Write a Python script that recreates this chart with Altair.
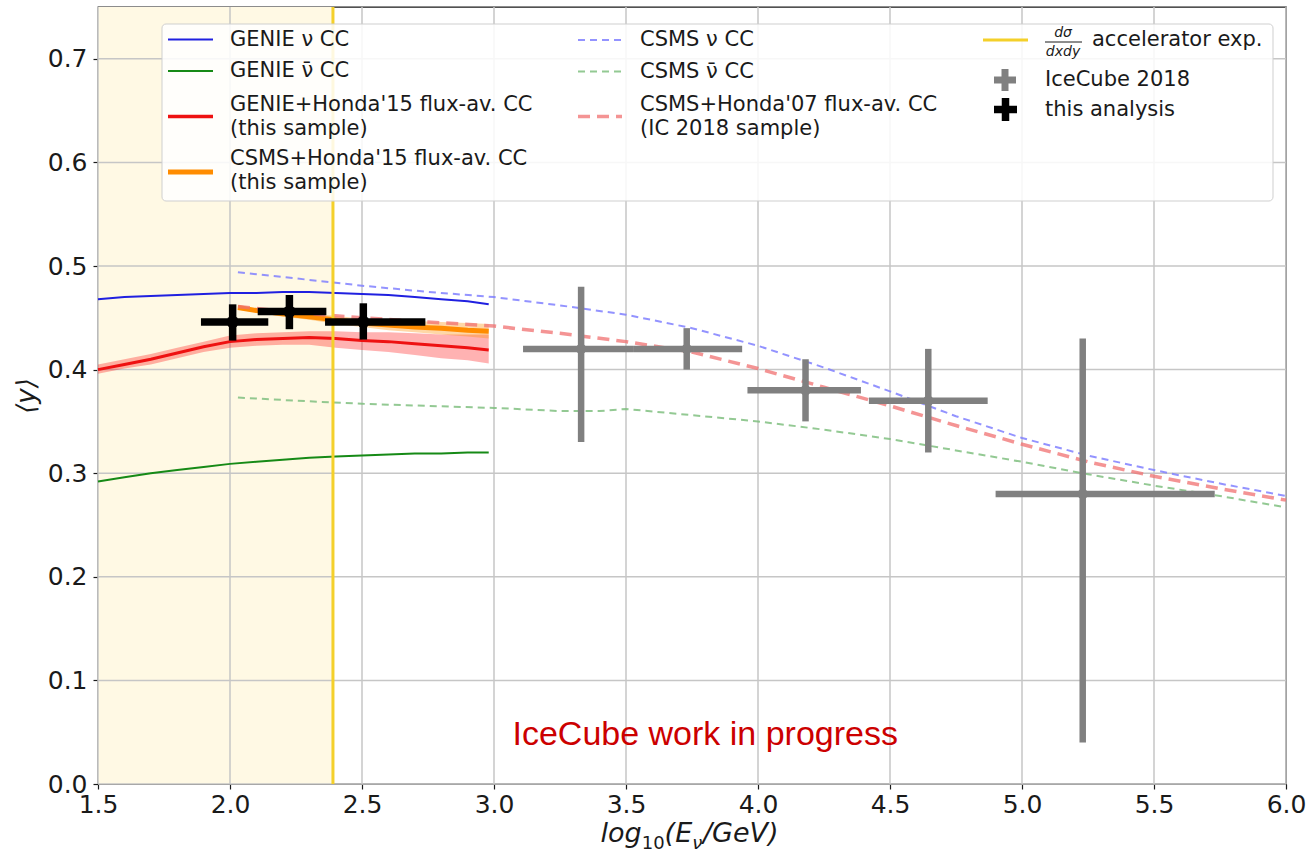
import altair as alt
import pandas as pd

# ------------------------------------------------------------------ data
genie_x = [1.5, 1.6, 1.7, 1.8, 1.9, 2.0, 2.1, 2.2, 2.3, 2.4, 2.5, 2.6, 2.7, 2.8, 2.9, 2.98]
genie_nu_y = [0.468, 0.470, 0.471, 0.472, 0.473, 0.474, 0.474, 0.475, 0.475, 0.474, 0.473, 0.472, 0.470, 0.468, 0.466, 0.463]
genie_nubar_y = [0.292, 0.296, 0.300, 0.303, 0.306, 0.309, 0.311, 0.313, 0.315, 0.316, 0.317, 0.318, 0.319, 0.319, 0.320, 0.320]
genie_flux_y = [0.400, 0.405, 0.410, 0.416, 0.422, 0.427, 0.429, 0.430, 0.431, 0.430, 0.428, 0.427, 0.425, 0.423, 0.421, 0.419]
genie_flux_lo = [0.396, 0.401, 0.405, 0.411, 0.417, 0.421, 0.423, 0.424, 0.424, 0.421, 0.419, 0.417, 0.414, 0.411, 0.409, 0.406]
genie_flux_hi = [0.405, 0.410, 0.415, 0.421, 0.427, 0.433, 0.435, 0.436, 0.437, 0.437, 0.436, 0.436, 0.435, 0.434, 0.434, 0.434]

csms_flux_x = [2.03, 2.1, 2.2, 2.3, 2.4, 2.5, 2.6, 2.7, 2.8, 2.9, 2.98]
csms_flux_y = [0.460, 0.457, 0.454, 0.451, 0.448, 0.445, 0.443, 0.441, 0.440, 0.438, 0.437]
csms_flux_lo = [0.458, 0.455, 0.451, 0.448, 0.444, 0.441, 0.438, 0.436, 0.434, 0.432, 0.430]
csms_flux_hi = [0.462, 0.459, 0.457, 0.454, 0.452, 0.449, 0.448, 0.447, 0.446, 0.445, 0.444]

csms_x = [2.03, 2.25, 2.5, 2.75, 3.0, 3.25, 3.5, 3.75, 4.0, 4.25, 4.5, 4.75, 5.0, 5.25, 5.5, 5.75, 6.0]
csms_nu_y = [0.494, 0.488, 0.481, 0.475, 0.470, 0.462, 0.453, 0.440, 0.423, 0.402, 0.379, 0.355, 0.334, 0.317, 0.303, 0.290, 0.278]
csms_h07_y = [0.461, 0.455, 0.450, 0.446, 0.442, 0.435, 0.427, 0.417, 0.401, 0.383, 0.365, 0.346, 0.328, 0.311, 0.297, 0.285, 0.274]

csms_nubar_x = [2.03, 2.25, 2.5, 2.75, 3.0, 3.25, 3.4, 3.5, 3.75, 4.0, 4.25, 4.5, 4.75, 5.0, 5.25, 5.5, 5.75, 6.0]
csms_nubar_y = [0.373, 0.370, 0.367, 0.365, 0.363, 0.360, 0.360, 0.362, 0.356, 0.350, 0.342, 0.333, 0.322, 0.311, 0.299, 0.288, 0.278, 0.267]

ic18_x = [3.33, 3.73, 4.18, 4.645, 5.23]
ic18_y = [0.42, 0.42, 0.38, 0.37, 0.28]
ic18_xlo = [3.11, 3.53, 3.96, 4.42, 4.90]
ic18_xhi = [3.53, 3.94, 4.39, 4.87, 5.73]
ic18_ylo = [0.33, 0.40, 0.35, 0.32, 0.04]
ic18_yhi = [0.48, 0.44, 0.41, 0.42, 0.43]

ana_x = [2.01, 2.225, 2.505]
ana_y = [0.446, 0.456, 0.446]
ana_xlo = [1.89, 2.105, 2.36]
ana_xhi = [2.145, 2.365, 2.74]
ana_ylo = [0.428, 0.439, 0.429]
ana_yhi = [0.463, 0.472, 0.464]

accel_x = 2.39
shade_x0 = 1.5

xticks = [1.5, 2.0, 2.5, 3.0, 3.5, 4.0, 4.5, 5.0, 5.5, 6.0]
yticks = [0.0, 0.1, 0.2, 0.3, 0.4, 0.5, 0.6, 0.7]

wip_text = "IceCube work in progress"
wip_x, wip_y = 3.07, 0.0376

# ------------------------------------------------------------------ layout
W, H = 1188, 777
PL, PT = 98, 7
X_DOM = [1.5, 6.0]
Y_DOM = [0.0, 0.75]
FONT = "DejaVu Sans"
INK = "#1a1a1a"
LFS = 21

xs = alt.Scale(domain=X_DOM, nice=False, zero=False)
ys = alt.Scale(domain=Y_DOM, nice=False, zero=False)

xaxis = alt.Axis(values=xticks, format=".1f", title=None, grid=False, domain=False,
                 tickSize=5, tickColor=INK, tickWidth=1.2, labelFontSize=25, labelFont=FONT,
                 labelColor=INK, labelPadding=3, labelFlush=False, labelOverlap=False)
yaxis = alt.Axis(values=yticks, format=".1f", title="⟨y⟩", grid=False, domain=False,
                 tickSize=5, tickColor=INK, tickWidth=1.2, labelFontSize=25, labelFont=FONT,
                 labelColor=INK, labelPadding=6, labelFlush=False, labelOverlap=False,
                 titleFont=FONT, titleFontSize=26, titleFontWeight="normal", titleFontStyle="italic",
                 titleColor=INK, titlePadding=8)


def X(f):
    return alt.X(f, type="quantitative", scale=xs, axis=xaxis)


def Y(f):
    return alt.Y(f, type="quantitative", scale=ys, axis=yaxis)


one = pd.DataFrame({"k": [0]})

layers = []

# shaded accelerator region
shade_df = pd.DataFrame({"x0": [shade_x0], "x1": [accel_x]})
layers.append(alt.Chart(shade_df).mark_rect(color="#fff9e4").encode(
    x=X("x0"), x2="x1", y=alt.value(0), y2=alt.value(H)))

# grid
layers.append(alt.Chart(pd.DataFrame({"v": xticks})).mark_rule(color="#c6c6c6", strokeWidth=1.5).encode(x=X("v")))
layers.append(alt.Chart(pd.DataFrame({"v": yticks})).mark_rule(color="#c6c6c6", strokeWidth=1.5).encode(y=Y("v")))

# bands
gf = pd.DataFrame({"x": genie_x, "y": genie_flux_y, "lo": genie_flux_lo, "hi": genie_flux_hi})
cf = pd.DataFrame({"x": csms_flux_x, "y": csms_flux_y, "lo": csms_flux_lo, "hi": csms_flux_hi})
layers.append(alt.Chart(gf).mark_area(color="#ff0000", opacity=0.3).encode(x=X("x"), y=Y("lo"), y2="hi"))
layers.append(alt.Chart(cf).mark_area(color="#ff8c00", opacity=0.35).encode(x=X("x"), y=Y("lo"), y2="hi"))

# GENIE lines
layers.append(alt.Chart(pd.DataFrame({"x": genie_x, "y": genie_nu_y})).mark_line(
    color="#2020e0", strokeWidth=2).encode(x=X("x"), y=Y("y")))
layers.append(alt.Chart(pd.DataFrame({"x": genie_x, "y": genie_nubar_y})).mark_line(
    color="#168a16", strokeWidth=2).encode(x=X("x"), y=Y("y")))
layers.append(alt.Chart(gf).mark_line(color="#ee1111", strokeWidth=3).encode(x=X("x"), y=Y("y")))
layers.append(alt.Chart(cf).mark_line(color="#ff8c00", strokeWidth=5).encode(x=X("x"), y=Y("y")))

# CSMS dashed lines
layers.append(alt.Chart(pd.DataFrame({"x": csms_x, "y": csms_nu_y})).mark_line(
    color="#8080ff", strokeWidth=2, strokeDash=[7, 5], opacity=0.85).encode(x=X("x"), y=Y("y")))
layers.append(alt.Chart(pd.DataFrame({"x": csms_nubar_x, "y": csms_nubar_y})).mark_line(
    color="#80c080", strokeWidth=2, strokeDash=[7, 5], opacity=0.85).encode(x=X("x"), y=Y("y")))
layers.append(alt.Chart(pd.DataFrame({"x": csms_x, "y": csms_h07_y})).mark_line(
    color="#f07070", strokeWidth=3.5, strokeDash=[12, 7], opacity=0.75).encode(x=X("x"), y=Y("y")))

# accelerator line
layers.append(alt.Chart(pd.DataFrame({"x": [accel_x]})).mark_rule(color="#f4d02a", strokeWidth=3).encode(x=X("x")))

# IceCube 2018
ic = pd.DataFrame({"x": ic18_x, "y": ic18_y, "xlo": ic18_xlo, "xhi": ic18_xhi, "ylo": ic18_ylo, "yhi": ic18_yhi})
GR = "#808080"
layers.append(alt.Chart(ic).mark_rule(color=GR, strokeWidth=6.5).encode(x=X("xlo"), x2="xhi", y=Y("y")))
layers.append(alt.Chart(ic).mark_rule(color=GR, strokeWidth=6.5).encode(x=X("x"), y=Y("ylo"), y2="yhi"))
layers.append(alt.Chart(ic).mark_point(filled=True, shape="circle", size=110, color=GR, opacity=1).encode(
    x=X("x"), y=Y("y")))

# this analysis
an = pd.DataFrame({"x": ana_x, "y": ana_y, "xlo": ana_xlo, "xhi": ana_xhi, "ylo": ana_ylo, "yhi": ana_yhi})
layers.append(alt.Chart(an).mark_rule(color="black", strokeWidth=7.5).encode(x=X("xlo"), x2="xhi", y=Y("y")))
layers.append(alt.Chart(an).mark_rule(color="black", strokeWidth=7.5).encode(x=X("x"), y=Y("ylo"), y2="yhi"))
layers.append(alt.Chart(an).mark_point(filled=True, shape="circle", size=150, color="black", opacity=1).encode(
    x=X("x"), y=Y("y")))

# work in progress annotation
layers.append(alt.Chart(pd.DataFrame({"x": [wip_x], "y": [wip_y], "t": [wip_text]})).mark_text(
    align="left", baseline="alphabetic", font="Liberation Sans", fontSize=34, color="#cc0000").encode(
    x=X("x"), y=Y("y"), text="t:N"))


# ------------------------------------------------------------------ legend (decoration, pixel placed)
def rx(v):
    return alt.value(v - PL)


def ry(v):
    return alt.value(v - PT)


def hline(x0, x1, y, color, width, dash=None, opacity=1.0):
    kw = dict(color=color, strokeWidth=width, opacity=opacity)
    if dash:
        kw["strokeDash"] = dash
    return alt.Chart(one).mark_rule(**kw).encode(x=rx(x0), x2=rx(x1), y=ry(y))


def vline(x, y0, y1, color, width):
    return alt.Chart(one).mark_rule(color=color, strokeWidth=width).encode(x=rx(x), y=ry(y0), y2=ry(y1))


def label(x, y, text, size=LFS, style="normal", align="left", baseline="middle"):
    return alt.Chart(one).mark_text(align=align, baseline=baseline, font=FONT, fontSize=size,
                                    fontStyle=style, color=INK).encode(
        x=rx(x), y=ry(y), text=alt.value(text))


layers.append(alt.Chart(one).mark_rect(fill="white", fillOpacity=0.85, stroke="#cfcfcf", strokeWidth=1,
                                       cornerRadius=4).encode(
    x=rx(162), x2=rx(1273), y=ry(24), y2=ry(201)))

# column 1
layers.append(hline(168, 213, 39.5, "#2020e0", 2))
layers.append(label(230, 39.5, "GENIE ν CC"))
layers.append(hline(168, 213, 71, "#168a16", 2))
layers.append(label(230, 71, "GENIE ν̄ CC"))
layers.append(hline(168, 213, 116.5, "#ee1111", 3.5))
layers.append(label(230, 105, "GENIE+Honda'15 flux-av. CC"))
layers.append(label(230, 128.5, "(this sample)"))
layers.append(hline(168, 213, 172, "#ff8c00", 5))
layers.append(label(230, 158.5, "CSMS+Honda'15 flux-av. CC"))
layers.append(label(230, 182.5, "(this sample)"))

# column 2
layers.append(hline(578, 622, 40, "#8080ff", 2, [7, 5], 0.85))
layers.append(label(640, 40, "CSMS ν CC"))
layers.append(hline(578, 622, 71.5, "#80c080", 2, [7, 5], 0.85))
layers.append(label(640, 71.5, "CSMS ν̄ CC"))
layers.append(hline(578, 622, 116.5, "#f07070", 3.5, [12, 7], 0.75))
layers.append(label(640, 105, "CSMS+Honda'07 flux-av. CC"))
layers.append(label(640, 128.5, "(IC 2018 sample)"))

# column 3
layers.append(hline(983, 1028, 40, "#f4d02a", 3))
layers.append(label(1063, 32.5, "dσ", size=14, style="italic", align="center"))
layers.append(hline(1045, 1082, 42, INK, 1))
layers.append(label(1063, 52, "dxdy", size=14, style="italic", align="center"))
layers.append(label(1092, 40, "accelerator exp."))

layers.append(hline(994, 1016, 80, GR, 7))
layers.append(vline(1005, 69, 91, GR, 7))
layers.append(label(1045, 80, "IceCube 2018"))
layers.append(hline(994, 1017, 109.5, "black", 7.5))
layers.append(vline(1005.5, 98, 121, "black", 7.5))
layers.append(label(1045, 109.5, "this analysis"))

# x-axis title: log_10(E_nu/GeV) built from pieces
TS, SS = 27, 18
layers.append(label(600.5, 842, "log", size=TS, style="italic", baseline="alphabetic"))
layers.append(label(641.7, 849, "10", size=SS, baseline="alphabetic"))
layers.append(label(664.6, 842, "(E", size=TS, style="italic", baseline="alphabetic"))
layers.append(label(692.2, 849, "ν", size=SS, style="italic", baseline="alphabetic"))
layers.append(label(702.9, 842, "/GeV)", size=TS, style="italic", baseline="alphabetic"))

chart = alt.layer(*layers).properties(
    width=W, height=H,
    padding={"left": PL, "top": PT, "right": 1310 - PL - W, "bottom": 853 - PT - H},
    autosize=alt.AutoSizeParams(type="none"),
    background="white",
).configure_view(stroke=INK, strokeWidth=1.3)

chart.save("out.html", embed_options={"renderer": "svg", "actions": False})
